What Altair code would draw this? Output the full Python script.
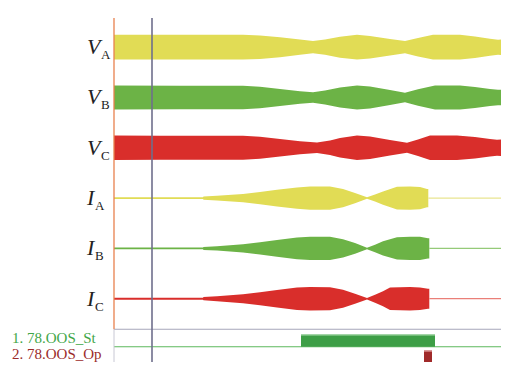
import altair as alt
import pandas as pd

# ---- time axis (ms); fault inception (cursor) at t = 0 ----
t_left, t_right = -288, 698
t_start = -76          # start of record (orange axis)
t_cursor = 0           # cursor line
t_end = 712            # end of record

# ---- channel offsets (y units) ----
ch_names = ["V", "V", "V", "I", "I", "I"]
ch_subs = ["A", "B", "C", "A", "B", "C"]
ch_center = [0, -4, -8, -12, -16, -20]
ch_color = ["#e1dc55", "#6cb346", "#d92e2b", "#e1dc55", "#6cb346", "#d92e2b"]

# ---- voltage envelopes (half amplitude, y units) ----
va_t = [-76, 182, 216, 256, 296, 322, 346, 376, 410, 436, 476, 506, 532, 562, 616, 646, 676, 692, 704, 706, 712]
va_amp = [0.98, 0.98, 0.93, 0.80, 0.61, 0.49, 0.61, 0.83, 0.98, 0.89, 0.66, 0.49, 0.73, 0.98, 0.98, 0.85, 0.68, 0.60, 0.64, 0.82, 0.82]

vb_t = [-76, 56, 182, 216, 256, 296, 322, 346, 376, 410, 436, 476, 506, 532, 566, 616, 646, 676, 692, 704, 706, 712]
vb_amp = [0.955, 0.93, 0.93, 0.85, 0.68, 0.50, 0.42, 0.55, 0.80, 0.955, 0.88, 0.60, 0.37, 0.65, 0.955, 0.955, 0.84, 0.68, 0.61, 0.63, 0.74, 0.74]

vc_t = [-76, 16, 182, 216, 256, 296, 330, 356, 376, 410, 436, 476, 510, 532, 556, 610, 646, 676, 690, 704, 706, 712]
vc_amp = [0.98, 0.96, 0.95, 0.88, 0.70, 0.52, 0.42, 0.58, 0.78, 0.98, 0.90, 0.62, 0.40, 0.66, 0.98, 0.98, 0.85, 0.70, 0.64, 0.66, 0.74, 0.74]

# ---- current envelopes ----
ia_t = [-76, 102, 103, 130, 182, 216, 250, 290, 316, 356, 382, 406, 430, 446, 462, 490, 516, 536, 550, 552.6]
ia_amp = [0.07, 0.07, 0.13, 0.19, 0.33, 0.49, 0.66, 0.85, 0.93, 0.93, 0.73, 0.40, 0.06, 0.28, 0.53, 0.90, 0.93, 0.88, 0.72, 0.72]

ib_t = [-76, 102, 103, 130, 182, 216, 250, 290, 316, 356, 382, 406, 430, 446, 462, 490, 516, 536, 552, 554.6]
ib_amp = [0.07, 0.07, 0.12, 0.17, 0.32, 0.48, 0.66, 0.86, 0.93, 0.93, 0.72, 0.42, 0.06, 0.30, 0.56, 0.88, 0.93, 0.93, 0.80, 0.80]

ic_t = [-76, 102, 103, 130, 182, 216, 250, 290, 316, 356, 382, 406, 430, 446, 462, 476, 516, 536, 552, 554.6]
ic_amp = [0.08, 0.08, 0.13, 0.20, 0.36, 0.52, 0.70, 0.90, 0.93, 0.92, 0.72, 0.40, 0.06, 0.32, 0.60, 0.90, 0.93, 0.90, 0.80, 0.80]

post_color = ["#e9e590", "#95ca78", "#ea7f78"]

# ---- digital channels ----
dig_labels = ["1. 78.OOS_St", "2. 78.OOS_Op"]
dig_colors = ["#3fa648", "#9b2b2b"]
dig_label_y = [-23.53, -24.80]     # text baselines
st_base, st_high = -23.82, -22.84
st_on, st_off = 298, 566
op_top = -24.12
op_on, op_off = 544, 560
sep_y = -22.43
rule_top = 2.32
y_min, y_max = -25.034, 3.117

xs = alt.Scale(domain=[t_left, t_right], nice=False, zero=False)
ys = alt.Scale(domain=[y_min, y_max], nice=False, zero=False)


def envelope(t, amp, center, color):
    df = pd.DataFrame({"t": t, "top": [center + a for a in amp], "bot": [center - a for a in amp]})
    return alt.Chart(df).mark_area(color=color, opacity=1).encode(
        x=alt.X("t:Q", scale=xs, axis=None),
        y=alt.Y("top:Q", scale=ys, axis=None),
        y2="bot:Q",
    )


layers = []
envs = [(va_t, va_amp), (vb_t, vb_amp), (vc_t, vc_amp), (ia_t, ia_amp), (ib_t, ib_amp), (ic_t, ic_amp)]
for i, (t, a) in enumerate(envs):
    layers.append(envelope(t, a, ch_center[i], ch_color[i]))

# post-trip thin lines of currents
for k, (t, a) in enumerate(envs[3:]):
    c = ch_center[3 + k]
    df = pd.DataFrame({"t": [t[-1], t_end], "y": [c, c]})
    layers.append(
        alt.Chart(df).mark_line(color=post_color[k], strokeWidth=1.3).encode(
            x=alt.X("t:Q", scale=xs, axis=None), y=alt.Y("y:Q", scale=ys, axis=None)
        )
    )

# horizontal lines of digital section
hl = pd.DataFrame({"t": [t_start, t_start], "t2": [t_end, t_end], "y": [sep_y, st_base],
                   "c": ["#a6a6ba", "#5cb85c"]})
layers.append(
    alt.Chart(hl).mark_rule(strokeWidth=1.2).encode(
        x=alt.X("t:Q", scale=xs, axis=None), x2="t2:Q",
        y=alt.Y("y:Q", scale=ys, axis=None), color=alt.Color("c:N", scale=None)
    )
)

# digital bars
bars = pd.DataFrame({
    "t": [st_on, op_on], "t2": [st_off, op_off],
    "y": [st_base, y_min], "y2": [st_high, op_top],
    "c": ["#3d9e46", "#a02a2a"],
})
layers.append(
    alt.Chart(bars).mark_rect().encode(
        x=alt.X("t:Q", scale=xs, axis=None), x2="t2:Q",
        y=alt.Y("y:Q", scale=ys, axis=None), y2="y2:Q",
        color=alt.Color("c:N", scale=None)
    )
)
hi = pd.DataFrame({
    "t": [st_on, op_on], "t2": [st_off, op_off],
    "y": [st_high - 0.09, op_top - 0.09], "y2": [st_high, op_top],
    "c": ["#a9dbab", "#e0a0a0"],
})
layers.append(
    alt.Chart(hi).mark_rect().encode(
        x=alt.X("t:Q", scale=xs, axis=None), x2="t2:Q",
        y=alt.Y("y:Q", scale=ys, axis=None), y2="y2:Q",
        color=alt.Color("c:N", scale=None)
    )
)

# vertical lines: record axis and cursor
vl = pd.DataFrame({
    "t": [t_start, t_start, t_cursor],
    "y": [rule_top, sep_y, rule_top],
    "y2": [sep_y, y_min, y_min],
    "c": ["#e8804e", "#c8c8d4", "#6f6f8c"],
    "w": [1.3, 1.0, 1.6],
})
layers.append(
    alt.Chart(vl).mark_rule().encode(
        x=alt.X("t:Q", scale=xs, axis=None),
        y=alt.Y("y:Q", scale=ys, axis=None), y2="y2:Q",
        color=alt.Color("c:N", scale=None),
        strokeWidth=alt.StrokeWidth("w:Q", scale=None),
    )
)

# channel labels
lab = pd.DataFrame({"name": ch_names, "sub": ch_subs, "y": ch_center})
lab_v = lab[lab["name"] == "V"]
lab_i = lab[lab["name"] == "I"]
for d, sub_x in [(lab_v, 93), (lab_i, 87)]:
    layers.append(
        alt.Chart(d).mark_text(align="left", baseline="alphabetic", font="Liberation Serif",
                               fontStyle="italic", fontSize=22, dy=7, color="#222222").encode(
            x=alt.value(79), y=alt.Y("y:Q", scale=ys, axis=None), text="name:N")
    )
    layers.append(
        alt.Chart(d).mark_text(align="left", baseline="alphabetic", font="Liberation Serif",
                               fontSize=13, dy=12, color="#222222").encode(
            x=alt.value(sub_x), y=alt.Y("y:Q", scale=ys, axis=None), text="sub:N")
    )

# digital labels
dl = pd.DataFrame({"label": dig_labels, "y": dig_label_y, "c": dig_colors})
layers.append(
    alt.Chart(dl).mark_text(align="left", baseline="alphabetic", font="Liberation Serif", fontSize=15).encode(
        x=alt.value(4), y=alt.Y("y:Q", scale=ys, axis=None), text="label:N",
        color=alt.Color("c:N", scale=None)
    )
)

chart = alt.layer(*layers).properties(
    width=493, height=354, padding=0, autosize=alt.AutoSizeParams(type="none"), background="white"
).configure_view(strokeWidth=0)

chart.save("out.html", embed_options={"renderer": "svg", "actions": False})
